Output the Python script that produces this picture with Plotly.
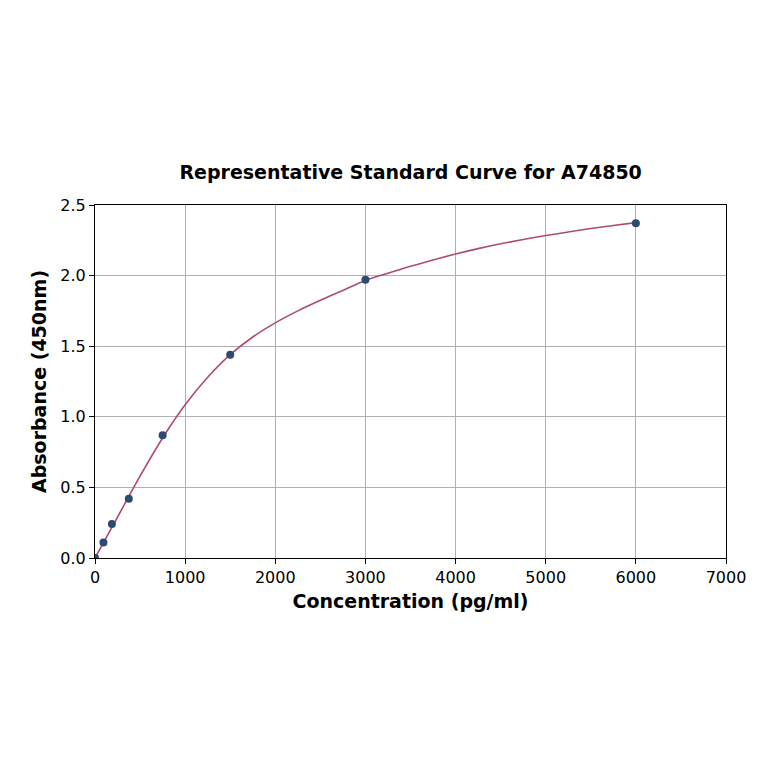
import plotly.graph_objects as go

# standard points
conc = [0, 93.75, 187.5, 375, 750, 1500, 3000, 6000]
absorb = [0.0, 0.11, 0.24, 0.42, 0.87, 1.44, 1.97, 2.37]

# fitted curve, every 250 pg/ml
curve_x = [0, 250, 500, 750, 1000, 1250, 1500, 1750, 2000, 2250, 2500, 2750, 3000,
           3250, 3500, 3750, 4000, 4250, 4500, 4750, 5000, 5250, 5500, 5750, 6000]
curve_y = [0.0, 0.29, 0.58, 0.85, 1.085, 1.28, 1.44, 1.565, 1.665, 1.75, 1.825, 1.895, 1.965,
           2.017, 2.066, 2.111, 2.153, 2.191, 2.225, 2.256, 2.284, 2.309, 2.333, 2.355, 2.375]

x_ticks = [0, 1000, 2000, 3000, 4000, 5000, 6000, 7000]
y_ticks = [0.0, 0.5, 1.0, 1.5, 2.0, 2.5]

font = 'DejaVu Sans'

fig = go.Figure()
fig.add_trace(go.Scatter(x=curve_x, y=curve_y, mode='lines', line_shape='spline',
                         line=dict(color='#b04a6f', width=1.6), hoverinfo='skip'))
fig.add_trace(go.Scatter(x=conc, y=absorb, mode='markers',
                         marker=dict(color='#2d4a72', size=8)))

axis_style = dict(showline=True, linecolor='black', linewidth=1, mirror=True,
                  showgrid=True, gridcolor='#b0b0b0', gridwidth=1,
                  ticks='outside', ticklen=5, tickcolor='black',
                  tickfont=dict(family=font, size=16, color='black'),
                  zeroline=False)

fig.update_layout(
    width=764, height=764,
    margin=dict(l=87, r=46, t=197, b=214),
    plot_bgcolor='white', paper_bgcolor='white',
    showlegend=False,
    title=dict(text='<b>Representative Standard Curve for A74850</b>',
               x=0.527, xanchor='center', y=0.785, yanchor='middle',
               font=dict(family=font, size=19, color='black')),
    xaxis=dict(range=[0, 7000], tickvals=x_ticks, ticktext=[str(v) for v in x_ticks],
               title=dict(text='<b>Concentration (pg/ml)</b>', standoff=8,
                          font=dict(family=font, size=19, color='black')),
               **axis_style),
    yaxis=dict(range=[0, 2.5], tickvals=y_ticks, ticktext=[f'{v:.1f}' for v in y_ticks],
               title=dict(text='<b>Absorbance (450nm)</b>', standoff=8,
                          font=dict(family=font, size=19, color='black')),
               **axis_style),
)

fig.write_html('out.html')
